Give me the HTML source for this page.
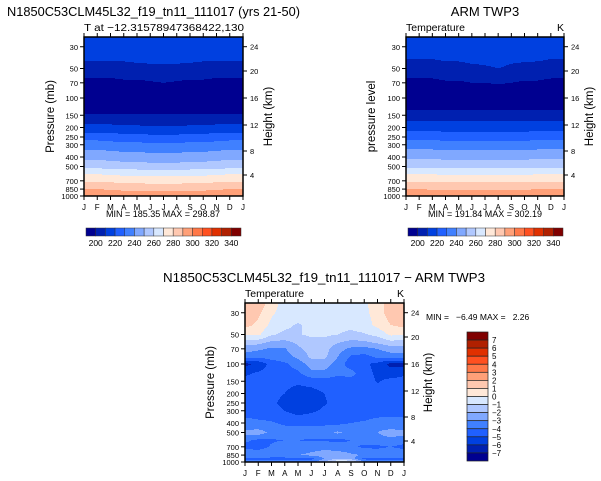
<!DOCTYPE html>
<html><head><meta charset="utf-8"><style>
html,body{margin:0;padding:0;background:#fff}
svg{display:block;font-family:"Liberation Sans",sans-serif}
text{white-space:pre}
</style></head><body>
<svg id="root" xmlns="http://www.w3.org/2000/svg" width="601" height="481" viewBox="0 0 601 481">
<rect width="601" height="481" fill="#fff"/>
<g id="gTL"></g>
<g id="gTR"></g>
<g id="gB"></g>
</svg>
<script>
// ---- data ----
const months = ["J","F","M","A","M","J","J","A","S","O","N","D","J"];
const presTicks = [30,50,70,100,150,200,250,300,400,500,700,850,1000];
const kmTicks = [24,20,16,12,8,4];
const tempBounds = [200,210,220,230,240,250,260,270,280,290,300,310,320,330,340];
const tempBarLabels = [200,220,240,260,280,300,320,340];
const diffBounds = [-7,-6,-5,-4,-3,-2,-1,0,1,2,3,4,5,6,7];
const diffBarLabels = [7,6,5,4,3,2,1,0,-1,-2,-3,-4,-5,-6,-7];

const modelLevels = [25,30,40,50,60,70,85,100,125,150,200,250,300,400,500,600,700,850,1000];
const modelT = [
[217,217,217,217,217,217,217,217,217,217,217,217,217],
[215,215,215,215,215,215,215,215,215,215,215,215,215],
[211,211,211,211,212,212,212,212,212,211,211,211,211],
[206,206,206,207,207,208,208,208,207,207,206,206,206],
[201,201,201,202,202,203,203,203,202,202,201,201,201],
[197,197,197,198,198,199,200,199,198,198,197,197,197],
[193,193,193,193,194,194,195,194,194,193,193,193,193],
[190,190,190,190,190,190,190,190,190,190,190,190,190],
[194,194,194,194,194,194,194,194,194,194,194,194,194],
[201,201,201,201,201,201,201,201,201,201,201,201,201],
[213,213,213,212,212,211,211,211,212,212,213,213,213],
[226,226,225,224,224,223,223,223,224,224,225,226,226],
[235,235,234,233,233,232,232,232,233,233,234,235,235],
[247,247,246,245,245,244,244,244,245,245,246,247,247],
[257,257,256,255,255,254,254,254,255,255,256,257,257],
[270,270,269,268,268,267,267,267,268,268,269,270,270],
[279,279,278,277,277,276,276,276,277,277,278,279,279],
[290,290,289,288,288,287,287,287,288,288,289,290,290],
[298,298,297,297,296,296,296,296,296,297,297,298,298]];

const armLevels = [25,30,40,50,60,70,85,100,125,150,200,250,300,400,500,600,700,850,1000];
const armT = [
[215,215,215,215,215,215,215,215,215,215,215,215,215],
[213,213,213,213,214,214,214,214,214,214,213,213,213],
[210,210,210,211,211,212,212,212,211,211,211,210,210],
[206,206,206,207,207,208,209,210,209,208,207,206,206],
[201,201,201,202,202,203,204,204,203,202,202,201,201],
[198,198,198,199,199,200,200,201,200,199,199,198,198],
[195,195,195,195,195,195,195,195,195,195,195,195,195],
[193,193,193,193,193,193,193,193,193,193,193,193,193],
[197,197,197,197,197,197,197,197,197,197,197,197,197],
[205,205,205,205,205,205,205,205,205,205,205,205,205],
[216,216,216,215,215,215,215,215,215,215,216,216,216],
[227,227,227,226,226,226,226,226,226,226,227,227,227],
[235,235,235,234,234,234,234,234,234,234,235,235,235],
[248,248,248,247,247,247,247,247,247,247,248,248,248],
[258,258,258,257,257,257,257,257,257,257,258,258,258],
[270,270,270,269,269,269,269,269,269,269,270,270,270],
[279,279,279,278,278,278,278,278,278,278,279,279,279],
[290,290,289,289,288,288,288,288,289,289,290,290,290],
[299,299,299,298,298,298,298,298,298,298,299,299,299]];

const diffLevels = [25,30,40,50,60,70,85,100,125,150,200,250,300,400,450,500,600,700,850,925,1000];
const diffT = [
[1.5,1.5,0.5,-0.5,-0.5,-0.5,-0.5,-0.5,-0.5,-0.2,0.5,1.5,1.5],
[1.5,1.2,0.2,-0.5,-0.5,-0.5,-0.5,-0.5,-0.5,-0.3,0.5,1.5,1.5],
[1.3,0.8,-0.3,-0.8,-1.1,-0.8,-0.6,-0.7,-0.8,-0.5,0.3,1.0,1.3],
[0.1,0.2,-0.9,-1.2,-1.1,-0.8,-0.8,-1.0,-1.2,-1.1,-0.7,0.2,0.1],
[-1.5,-1.6,-2.2,-2.3,-1.8,-1.4,-1.4,-1.9,-2.3,-2.2,-1.8,-1.3,-1.5],
[-2.5,-2.8,-3.2,-3.1,-2.2,-1.6,-1.6,-2.6,-3.2,-3.3,-3.0,-2.5,-2.5],
[-3.6,-3.8,-3.6,-3.4,-2.8,-1.8,-1.8,-3.0,-4.2,-4.4,-3.8,-3.6,-3.6],
[-6.3,-5.8,-4.6,-4.2,-3.6,-2.5,-2.5,-3.5,-4.5,-4.8,-5.3,-6.3,-6.3],
[-5.2,-4.8,-4.5,-4.3,-4.2,-3.3,-3.3,-3.8,-3.6,-4.6,-5.2,-5.5,-5.2],
[-4.6,-4.6,-4.6,-4.7,-4.8,-4.6,-4.4,-4.5,-4.5,-4.5,-5.1,-4.7,-4.6],
[-4.5,-4.6,-4.7,-5.0,-5.5,-5.4,-5.0,-4.6,-4.5,-4.5,-4.5,-4.5,-4.5],
[-4.6,-4.7,-4.8,-5.3,-5.6,-5.6,-5.1,-4.6,-4.6,-4.6,-4.6,-4.6,-4.6],
[-4.5,-4.5,-4.6,-5.0,-5.4,-5.2,-4.8,-4.5,-4.5,-4.5,-4.5,-4.5,-4.5],
[-3.6,-3.8,-3.9,-4.2,-4.3,-4.2,-4.2,-4.2,-4.0,-3.9,-3.6,-3.5,-3.6],
[-3.3,-3.2,-3.5,-3.8,-3.8,-3.8,-3.8,-3.6,-3.6,-3.5,-3.2,-3.2,-3.3],
[-2.6,-2.5,-3.3,-3.6,-3.6,-3.6,-3.5,-2.8,-3.5,-3.4,-3.0,-2.5,-2.6],
[-3.8,-4.2,-4.1,-4.0,-4.0,-4.1,-4.1,-4.2,-4.0,-3.6,-3.4,-3.3,-3.6],
[-4.3,-4.4,-3.9,-3.6,-3.6,-3.4,-3.3,-3.6,-3.8,-4.2,-4.2,-4.0,-4.3],
[-3.2,-3.3,-3.4,-3.4,-3.0,-2.8,-2.5,-2.4,-2.8,-3.1,-3.3,-3.2,-3.2],
[-4.3,-4.3,-4.3,-4.3,-4.3,-4.3,-3.0,-2.0,-2.5,-4.3,-4.3,-4.3,-4.3],
[-3.5,-3.5,-3.5,-3.5,-3.5,-3.5,-2.0,0.2,0.1,-3.0,-3.5,-3.5,-3.5]];

const palette = ["#000090","#0020b0","#0040e0","#2060ff","#4080ff","#80a8ff","#b0c8ff","#d8e8ff","#ffe8d8","#ffc8b0","#ffa078","#ff7848","#ff5020","#e03000","#b02000","#800000"];

// ---- drawing ----
const NS = "http://www.w3.org/2000/svg";
function el(parent, tag, attrs, text){
  const e = document.createElementNS(NS, tag);
  for (const k in attrs) e.setAttribute(k, attrs[k]);
  if (text !== undefined) e.textContent = text;
  parent.appendChild(e);
  return e;
}
function colorIdx(v, bounds){ let i=0; while(i<bounds.length && v>=bounds[i]) i++; return i; }
const DEC = 98; // px per decade
function drawPanel(g, P){
  const {x0,y0,w,h} = P;
  const yOf = p => y0 + h - (3 - Math.log10(p))*DEC;
  const xOf = m => x0 + m*w/12;
  const field = el(g,"g",{"shape-rendering":"crispEdges"});
  
  
  const L = P.levels.map(p=>Math.log10(p));
  for (let py=0; py<h; py++){
    const lp = 3 - (h - (py+0.5))/DEC;
    let r=0; while(r<L.length-2 && lp>L[r+1]) r++;
    let f = (lp-L[r])/(L[r+1]-L[r]); f=Math.max(0,Math.min(1,f));
    let runStart=0, runC=-1;
    for (let px=0; px<=w; px++){
      let c=-2;
      if (px<w){
        const m=(px+0.5)/w*12; let ci=Math.min(11,Math.floor(m)); const fm=m-ci;
        const a=P.grid[r][ci]*(1-fm)+P.grid[r][ci+1]*fm;
        const b=P.grid[r+1][ci]*(1-fm)+P.grid[r+1][ci+1]*fm;
        c=colorIdx(a*(1-f)+b*f, P.bounds);
      }
      if (c!==runC){
        if (runC>=0){
          const rc = el(field,"rect",{x:x0+runStart,y:y0+py,width:px-runStart,height:1,fill:palette[runC]});
          
          
        }
        runStart=px; runC=c;
      }
    }
  }
  const fr = el(g,"rect",{x:x0,y:y0,width:w,height:h,fill:"none",stroke:"#000","stroke-width":1.5});
  
  
  months.forEach((mName,i)=>{
    const x=xOf(i);
    el(g,"line",{x1:x,x2:x,y1:y0+h,y2:y0+h+4,stroke:"#000","stroke-width":1});
    el(g,"line",{x1:x,x2:x,y1:y0,y2:y0-4,stroke:"#000","stroke-width":1});
    const t=el(g,"text",{x:x,y:y0+h+14,"font-size":8,"text-anchor":"middle"},mName);
    
    
  });
  presTicks.forEach(p=>{
    const y=yOf(p);
    el(g,"line",{x1:x0-4,x2:x0,y1:y,y2:y,stroke:"#000","stroke-width":1});
    const t=el(g,"text",{x:x0-6,y:y+3,"font-size":7.5,"text-anchor":"end"},String(p));
    
    
  });
  const kmOff = {24:9.7,20:34,16:61,12:88,8:114,4:138};
  kmTicks.forEach(k=>{
    const y=y0+kmOff[k];
    el(g,"line",{x1:x0+w,x2:x0+w+4,y1:y,y2:y,stroke:"#000","stroke-width":1});
    const t=el(g,"text",{x:x0+w+7,y:y+3,"font-size":7.5},String(k));
    
    
  });
  const yt=el(g,"text",{x:0,y:0,"font-size":11.5,"text-anchor":"middle",transform:`translate(${P.ylabX},${y0+h/2}) rotate(-90)`},P.ylabel);
  
  
  const ht=el(g,"text",{x:0,y:0,"font-size":11.5,"text-anchor":"middle",transform:`translate(${P.hlabX},${y0+h/2}) rotate(-90)`},"Height (km)");
  
  
}
function hBar(g, x0, y0, w, hh, labels){
  const n=palette.length, bw=w/n;
  palette.forEach((c,i)=>{
    const r=el(g,"rect",{x:x0+i*bw,y:y0,width:bw,height:hh,fill:c,stroke:"#333","stroke-width":0.5});
    
    
  });
  labels.forEach(v=>{
    const i=tempBounds.indexOf(v)+1;
    const t=el(g,"text",{x:x0+i*bw,y:y0+hh+10,"font-size":8.5,"text-anchor":"middle"},String(v));
    
    
  });
}
const gTL=document.getElementById("gTL"), gTR=document.getElementById("gTR"), gB=document.getElementById("gB");
drawPanel(gTL,{name:"model",x0:84,y0:37,w:159,h:159,levels:modelLevels,grid:modelT,bounds:tempBounds,ylabel:"Pressure (mb)",ylabX:54,hlabX:272});
drawPanel(gTR,{name:"arm",x0:406,y0:37,w:158,h:159,levels:armLevels,grid:armT,bounds:tempBounds,ylabel:"pressure level",ylabX:375,hlabX:593});
drawPanel(gB,{name:"diff",x0:245,y0:303,w:159,h:159,levels:diffLevels,grid:diffT,bounds:diffBounds,ylabel:"Pressure (mb)",ylabX:214,hlabX:432});
hBar(gTL,86,228,155,8,tempBarLabels);
hBar(gTR,408,228,155,8,tempBarLabels);
(function(){
  const x0=467,y0=332,w=21,h=129,n=palette.length,bh=h/n;
  palette.slice().reverse().forEach((c,i)=>{
    const r=el(gB,"rect",{x:x0,y:y0+i*bh,width:w,height:bh,fill:c,stroke:"#222","stroke-width":0.7});
    
    
  });
  diffBarLabels.forEach((v,i)=>{
    const t=el(gB,"text",{x:x0+w+4,y:y0+(i+1)*bh+3,"font-size":8},v<0?"\u2212"+(-v):String(v));
    
    
  });
})();
function txt(parent,attrs,s,name){
  const t=el(parent,"text",attrs,s);
  
  
}
txt(gTL,{x:7,y:16,"font-size":13,textLength:293,lengthAdjust:"spacingAndGlyphs"},"N1850C53CLM45L32_f19_tn11_111017 (yrs 21-50)","model-title");
txt(gTL,{x:84,y:31,"font-size":10.5,textLength:160,lengthAdjust:"spacingAndGlyphs"},"T at \u221212.31578947368422,130","model-subtitle");
txt(gTL,{x:163,y:217,"font-size":9,"text-anchor":"middle"},"MIN = 185.35 MAX = 298.87","model-min-max");
txt(gTR,{x:485,y:16,"font-size":13,"text-anchor":"middle"},"ARM TWP3","arm-title");
txt(gTR,{x:406,y:31,"font-size":10.5},"Temperature","arm-subtitle-left");
txt(gTR,{x:564,y:31,"font-size":10.5,"text-anchor":"end"},"K","arm-units");
txt(gTR,{x:485,y:217,"font-size":9,"text-anchor":"middle"},"MIN = 191.84 MAX = 302.19","arm-min-max");
txt(gB,{x:324,y:282,"font-size":13,"text-anchor":"middle",textLength:322,lengthAdjust:"spacingAndGlyphs"},"N1850C53CLM45L32_f19_tn11_111017 \u2212 ARM TWP3","diff-title");
txt(gB,{x:245,y:297,"font-size":10.5},"Temperature","diff-subtitle-left");
txt(gB,{x:404,y:297,"font-size":10.5,"text-anchor":"end"},"K","diff-units");
txt(gB,{x:426,y:320,"font-size":8.5},"MIN =   \u22126.49 MAX =   2.26","diff-min-max");
</script>
</body></html>
